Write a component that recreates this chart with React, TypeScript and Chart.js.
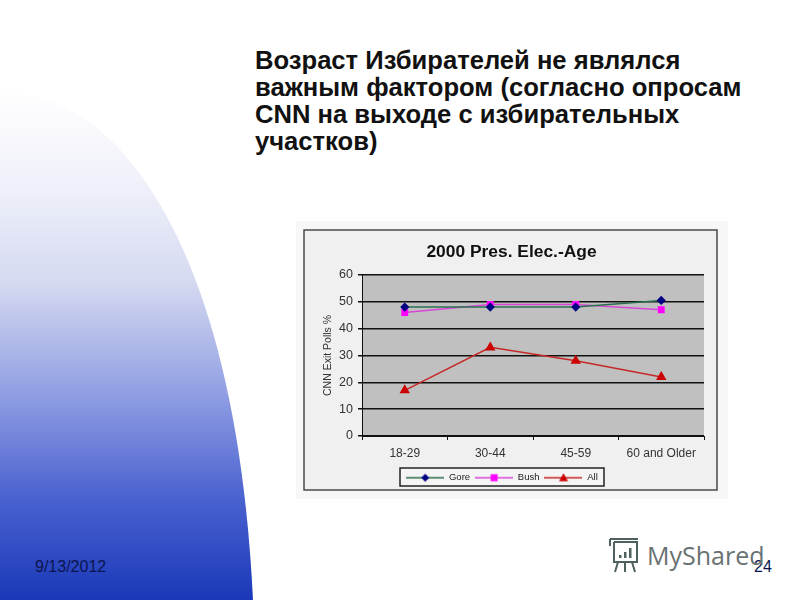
import React, { useEffect, useRef } from "react";
import { Chart, registerables } from "chart.js";

Chart.register(...registerables);

const categories = ["18-29", "30-44", "45-59", "60 and Older"];
const gore = [48, 48, 48, 50.5];
const bush = [46, 49, 49, 47];
const all = [17, 33, 28, 22];
const yTicks = [0, 10, 20, 30, 40, 50, 60];
const chartTitle = "2000 Pres. Elec.-Age";
const yTitle = "CNN Exit Polls %";
const slideLines = [
  "Возраст Избирателей не являлся",
  "важным фактором (согласно опросам",
  "CNN на выходе с избирательных",
  "участков)",
];
const FONT = "'Liberation Sans', Arial, sans-serif";

function legendImage(color: string, marker: string, shape: string, w: number) {
  const c = document.createElement("canvas");
  c.width = w;
  c.height = 12;
  const x = c.getContext("2d")!;
  x.strokeStyle = color;
  x.lineWidth = 1.3;
  x.beginPath();
  x.moveTo(0, 6);
  x.lineTo(w, 6);
  x.stroke();
  x.fillStyle = marker;
  const m = w / 2;
  x.beginPath();
  if (shape === "rectRot") {
    x.moveTo(m, 2); x.lineTo(m + 4, 6); x.lineTo(m, 10); x.lineTo(m - 4, 6);
  } else if (shape === "rect") {
    x.rect(m - 3.5, 2.5, 7, 7);
  } else {
    x.moveTo(m, 1.5); x.lineTo(m + 4.5, 9.5); x.lineTo(m - 4.5, 9.5);
  }
  x.closePath();
  x.fill();
  return c;
}

const LEGEND = { left: 104, right: 308, top: 247, bottom: 265 };

const framePlugin = {
  id: "frame",
  afterLayout(chart: any) {
    const l = chart.legend;
    if (!l) return;
    l.left = LEGEND.left;
    l.right = LEGEND.right;
    l.top = LEGEND.top;
    l.bottom = LEGEND.bottom;
    l.width = LEGEND.right - LEGEND.left;
    l.height = LEGEND.bottom - LEGEND.top;
  },
  beforeDraw(chart: any) {
    const { ctx, chartArea: a } = chart;
    ctx.save();
    ctx.fillStyle = "#f7f7f7";
    ctx.fillRect(0, 0, chart.width, chart.height);
    ctx.fillStyle = "#f0f0f0";
    ctx.strokeStyle = "#4a4a4a";
    ctx.lineWidth = 1.5;
    ctx.fillRect(8, 9, 413, 260);
    ctx.strokeRect(8, 9, 413, 260);
    ctx.fillStyle = "#c0c0c0";
    ctx.fillRect(a.left, a.top, a.right - a.left, a.bottom - a.top);
    ctx.fillStyle = "#f4f4f4";
    ctx.strokeStyle = "#222";
    ctx.lineWidth = 1.5;
    ctx.fillRect(LEGEND.left, LEGEND.top, LEGEND.right - LEGEND.left, LEGEND.bottom - LEGEND.top);
    ctx.strokeRect(LEGEND.left, LEGEND.top, LEGEND.right - LEGEND.left, LEGEND.bottom - LEGEND.top);
    ctx.restore();
  },
};

function ChartPanel() {
  const ref = useRef<HTMLCanvasElement>(null);
  useEffect(() => {
    const mk = (label: string, data: number[], color: string, marker: string, style: string, size: number) => ({
      label,
      data,
      borderColor: color,
      backgroundColor: marker,
      borderWidth: 1.5,
      pointStyle: style,
      pointRadius: size,
      pointBackgroundColor: marker,
      pointBorderColor: marker,
      tension: 0,
    });
    const chart = new Chart(ref.current!, {
      type: "line",
      data: {
        labels: categories,
        datasets: [
          mk("Gore", gore, "#2a6f4e", "#000080", "rectRot", 3.5),
          mk("Bush", bush, "#d846d8", "#ff00ff", "rect", 3.8),
          mk("All", all, "#c62828", "#cc0000", "triangle", 4.5),
        ],
      },
      options: {
        responsive: false,
        animation: false,
        layout: { padding: { left: 23, right: 24, top: 21, bottom: 6.5 } },
        plugins: {
          title: {
            display: true,
            text: chartTitle,
            color: "#111",
            font: { family: FONT, size: 17.4, weight: "bold" },
            padding: { top: 0, bottom: 12 },
          },
          legend: {
            display: true,
            position: "bottom",
            labels: {
              usePointStyle: true,
              pointStyleWidth: 38,
              boxHeight: 12,
              padding: 5,
              color: "#222",
              font: { family: FONT, size: 9.5 },
              generateLabels: (c: any) =>
                c.data.datasets.map((d: any, i: number) => ({
                  text: d.label,
                  fontColor: "#222",
                  datasetIndex: i,
                  hidden: false,
                  lineWidth: 0,
                  pointStyle: legendImage(d.borderColor, d.pointBackgroundColor, d.pointStyle, 38),
                })),
            },
          },
        },
        scales: {
          x: {
            offset: true,
            afterFit: (s: any) => { s.height = 32; },
            grid: { offset: true, drawOnChartArea: false, drawTicks: true, tickLength: 4, color: "#111" },
            border: { color: "#111", width: 1 },
            ticks: { color: "#333", font: { family: FONT, size: 12 }, padding: 6, maxRotation: 0 },
          },
          y: {
            min: 0,
            max: 60,
            afterFit: (s: any) => { s.width = 43; },
            afterBuildTicks: (s: any) => { s.ticks = yTicks.map((value) => ({ value })); },
            grid: { color: "#111", lineWidth: 1.5, tickLength: 4, drawTicks: true },
            border: { color: "#111", width: 1 },
            ticks: { color: "#333", font: { family: FONT, size: 12.5 }, padding: 5 },
            title: {
              display: true,
              text: yTitle,
              color: "#333",
              font: { family: FONT, size: 10.5 },
              padding: { top: 3, bottom: 0 },
            },
          },
        },
      },
      plugins: [framePlugin],
    } as any);
    return () => chart.destroy();
  }, []);
  return (
    <canvas
      ref={ref}
      width={432}
      height={278}
      style={{ position: "absolute", left: 296, top: 221, width: 432, height: 278, filter: "blur(0.35px)" }}
    />
  );
}

export default function App() {
  return (
    <div style={{ position: "fixed", left: 0, top: 0, width: 800, height: 600, background: "#fff", overflow: "hidden", fontFamily: FONT }}>
      <svg width={800} height={600} style={{ position: "absolute", left: 0, top: 0 }}>
        <defs>
          <linearGradient id="sw" x1="0" y1="90" x2="0" y2="600" gradientUnits="userSpaceOnUse">
            <stop offset="0" stopColor="#ffffff" />
            <stop offset="0.18" stopColor="#f0f1fa" />
            <stop offset="0.38" stopColor="#d4d9f0" />
            <stop offset="0.6" stopColor="#8f9de2" />
            <stop offset="0.8" stopColor="#4a62d0" />
            <stop offset="1" stopColor="#1a38b8" />
          </linearGradient>
        </defs>
        <path d="M0 90 C 110 90, 235 230, 253 600 L0 600 Z" fill="url(#sw)" />
      </svg>
      <div style={{ position: "absolute", left: 255, top: 47, fontSize: 25.6, fontWeight: 700, lineHeight: "27px", color: "#111", whiteSpace: "nowrap" }}>
        {slideLines.map((l) => (
          <div key={l}>{l}</div>
        ))}
      </div>
      <ChartPanel />
      <div style={{ position: "absolute", left: 35, top: 558, fontSize: 16, color: "#0b1450" }}>9/13/2012</div>
      <div style={{ position: "absolute", left: 754, top: 558, fontSize: 16, color: "#0b1450" }}>24</div>
      <svg width={36} height={38} style={{ position: "absolute", left: 606, top: 536 }} fill="none" stroke="#4f6060" strokeWidth={2}>
        <path d="M4 3 H32 M4 3 V10 M8 6 H31 V26 H8 V6 M12 26 L9 36 M19 26 V36 M26 26 L29 36" />
        <rect x="13" y="19" width="2.5" height="3" fill="#4f6060" stroke="none" />
        <rect x="18" y="16" width="2.5" height="6" fill="#4f6060" stroke="none" />
        <rect x="23" y="12" width="2.5" height="10" fill="#4f6060" stroke="none" />
      </svg>
      <div style={{ position: "absolute", left: 647, top: 538, fontSize: 25, fontFamily: "'Open Sans', sans-serif", color: "#687272" }}>MyShared</div>
    </div>
  );
}
